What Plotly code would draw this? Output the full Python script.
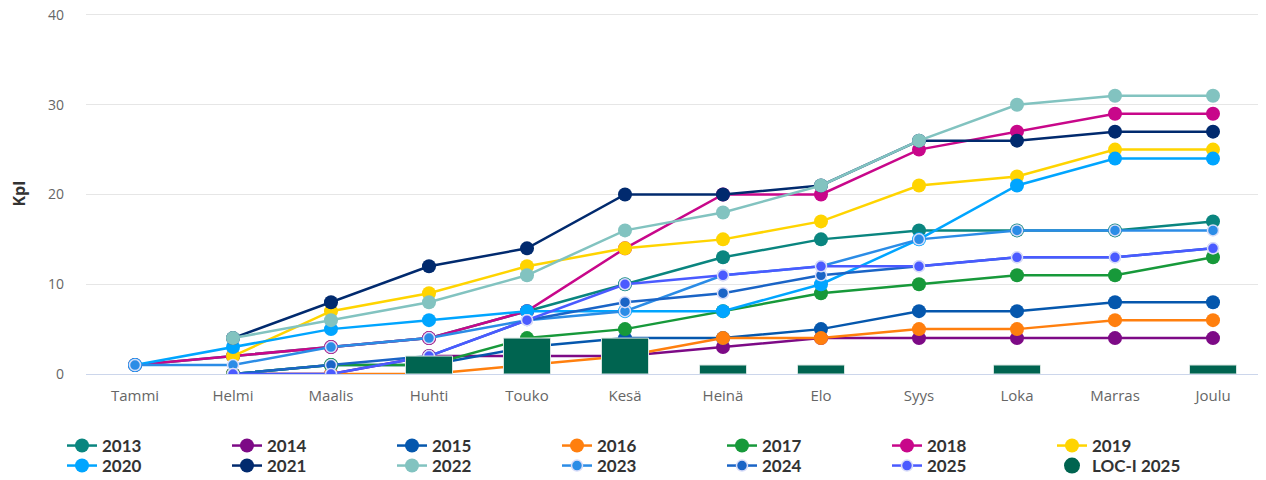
import plotly.graph_objects as go

months = ["Tammi", "Helmi", "Maalis", "Huhti", "Touko", "Kesä",
          "Heinä", "Elo", "Syys", "Loka", "Marras", "Joulu"]

y2013 = [1, 2, 3, 4, 7, 10, 13, 15, 16, 16, 16, 17]
y2014 = [None, 0, 0, 2, 2, 2, 3, 4, 4, 4, 4, 4]
y2015 = [None, 0, 1, 1, 3, 4, 4, 5, 7, 7, 8, 8]
y2016 = [None, 0, 0, 0, 1, 2, 4, 4, 5, 5, 6, 6]
y2017 = [None, 0, 1, 1, 4, 5, 7, 9, 10, 11, 11, 13]
y2018 = [1, 2, 3, 4, 7, 14, 20, 20, 25, 27, 29, 29]
y2019 = [None, 2, 7, 9, 12, 14, 15, 17, 21, 22, 25, 25]
y2020 = [1, 3, 5, 6, 7, 7, 7, 10, 15, 21, 24, 24]
y2021 = [None, 4, 8, 12, 14, 20, 20, 21, 26, 26, 27, 27]
y2022 = [None, 4, 6, 8, 11, 16, 18, 21, 26, 30, 31, 31]
y2023 = [1, 1, 3, 4, 6, 7, 11, 12, 15, 16, 16, 16]
y2024 = [None, 0, 1, 2, 6, 8, 9, 11, 12, 13, 13, 14]
y2025 = [None, 0, 0, 2, 6, 10, 11, 12, 12, 13, 13, 14]
loc_i_2025 = [None, None, None, 2, 4, 4, 1, 1, None, 1, None, 1]

yticks = [0, 10, 20, 30, 40]

series = [
    ("2013", y2013, "#0a857f", "legend"),
    ("2014", y2014, "#7d0a86", "legend"),
    ("2015", y2015, "#0557ad", "legend"),
    ("2016", y2016, "#ff7f0e", "legend"),
    ("2017", y2017, "#17993a", "legend"),
    ("2018", y2018, "#c8078a", "legend"),
    ("2019", y2019, "#ffd400", "legend"),
    ("2020", y2020, "#00a5ff", "legend2"),
    ("2021", y2021, "#012a6e", "legend2"),
    ("2022", y2022, "#82c3c0", "legend2"),
    ("2023", y2023, "#2b8ce6", "legend2"),
    ("2024", y2024, "#1a64c6", "legend2"),
    ("2025", y2025, "#4a5aff", "legend2"),
]
small = {"2023", "2024", "2025"}

# page body has an 8px margin; figure is sized/offset to compensate
W, H = 1258, 472
YMAX = 40.22

fig = go.Figure()
for name, vals, col, leg in series:
    if name in small:
        mk = dict(size=11, color=col, line=dict(color="#d8dcf8", width=1.5))
    else:
        mk = dict(size=14, color=col, line=dict(width=0))
    fig.add_trace(go.Scatter(
        x=months, y=vals, name=name, mode="lines+markers",
        line=dict(color=col, width=2.5), marker=mk,
        connectgaps=False, legend=leg, xaxis="x", yaxis="y"))

# bars on overlaid axis so they render above the lines
fig.add_trace(go.Bar(
    x=months, y=loc_i_2025, name="LOC-I 2025", width=0.48,
    marker=dict(color="#006450", line=dict(color="#d9e6e2", width=1)),
    showlegend=False, xaxis="x", yaxis="y2"))
# legend entry (circle symbol) for the bar series
fig.add_trace(go.Scatter(
    x=[None], y=[None], name="LOC-I 2025", mode="markers",
    marker=dict(size=16, color="#006450"), legend="legend2",
    xaxis="x", yaxis="y2"))

xtickfont = dict(family="Open Sans", size=15, color="#666666")
ytickfont = dict(family="Open Sans", size=14, color="#666666")
legfont = dict(family="Lato", size=17, color="#333333", weight="bold")

legend_common = dict(
    orientation="h", xref="container", yref="container",
    x=54 / W, xanchor="left", yanchor="middle",
    entrywidth=120, entrywidthmode="pixels",
    font=legfont, itemwidth=30, tracegroupgap=0,
    bgcolor="rgba(0,0,0,0)")

fig.update_layout(
    width=W, height=H,
    margin=dict(l=78, r=4, t=5, b=106, autoexpand=False),
    plot_bgcolor="white", paper_bgcolor="white",
    showlegend=True,
    barmode="overlay",
    xaxis=dict(
        type="category", range=[-0.5, 11.5], tickfont=xtickfont,
        showgrid=False, zeroline=False, showline=True,
        linecolor="#ccd6eb", linewidth=1, ticks="", ticklabelstandoff=8,
        automargin=False, fixedrange=True),
    yaxis=dict(
        range=[0, YMAX], tickvals=yticks, tickfont=ytickfont,
        showgrid=True, gridcolor="#e6e6e6", gridwidth=1,
        zeroline=False, showline=False, ticks="", ticklabelstandoff=21,
        ticklabeloverflow="allow", automargin=False, fixedrange=True),
    yaxis2=dict(
        range=[0, YMAX], overlaying="y", visible=False, fixedrange=True),
    legend=dict(legend_common, y=1 - 438 / H),
    legend2=dict(legend_common, y=1 - 458 / H),
    annotations=[dict(
        text="<b>Kpl</b>", xref="paper", yref="paper",
        x=(10 - 78) / (W - 82), y=0.5, xanchor="center", yanchor="middle",
        showarrow=False, textangle=-90,
        font=dict(family="Open Sans", size=16, color="#333333"))],
)

fig.write_html("out.html")
